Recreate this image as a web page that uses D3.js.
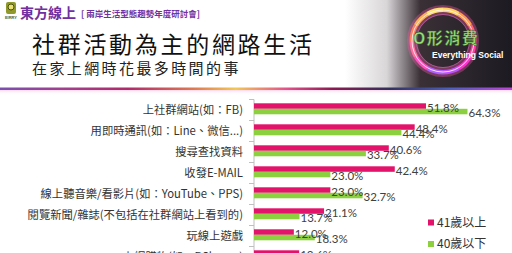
<!DOCTYPE html>
<html>
<head>
<meta charset="utf-8">
<script src="https://cdn.jsdelivr.net/npm/d3@7/dist/d3.min.js"></script>
<style>
  html, body { margin: 0; padding: 0; background: #fff; }
  svg { display: block; }
</style>
</head>
<body>
<script>
// ---------- data ----------
const categories = [
    '上社群網站(如：FB)',
    '用即時通訊(如：Line、微信...)',
    '搜尋查找資料',
    '收發E-MAIL',
    '線上聽音樂/看影片(如：YouTube、PPS)',
    '閱覽新聞/雜誌(不包括在社群網站上看到的)',
    '玩線上遊戲',
    '上網購物(如：PChome)'
];
const seriesNames = ['41歲以上', '40歲以下'];
const olderValues = [51.8, 48.4, 40.6, 42.4, 23.0, 21.1, 12.0, 13.6];
const youngerValues = [64.3, 44.4, 33.7, 23.0, 32.7, 13.7, 18.3, 11.5];

let width = 512,
    height = 253;

let colors = { '41歲以上': '#e3136b', '40歲以下': '#8ccf3f' };

let svg = d3.select('body')
    .append('svg')
    .attr('width', width)
    .attr('height', height);

let defs = svg.append('defs');

//---------- header background ----------
let bgGrad = defs.append('linearGradient').attr('id', 'bgGrad');
bgGrad.append('stop').attr('offset', '0%').attr('stop-color', '#ffffff');
bgGrad.append('stop').attr('offset', '25%').attr('stop-color', '#d9d6d8');
bgGrad.append('stop').attr('offset', '45%').attr('stop-color', '#3a3036');
bgGrad.append('stop').attr('offset', '100%').attr('stop-color', '#1c1a22');

svg.append('rect')
    .attr('x', 345).attr('y', 0)
    .attr('width', width - 345).attr('height', 88)
    .attr('fill', 'url(#bgGrad)');

// rainbow line under the header
let lineGrad = defs.append('linearGradient').attr('id', 'lineGrad');
[['0%', '#7a4fb0'], ['12%', '#a0408f'], ['25%', '#b02a6a'], ['38%', '#e07a50'],
 ['46%', '#f2c850'], ['56%', '#e4508a'], ['65%', '#8a1a50'], ['76%', '#30305a'],
 ['88%', '#4a60c0'], ['100%', '#c044d8']].forEach(function (s) {
    lineGrad.append('stop').attr('offset', s[0]).attr('stop-color', s[1]);
});
svg.append('rect')
    .attr('x', 0).attr('y', 87.5)
    .attr('width', width).attr('height', 2.5)
    .attr('fill', 'url(#lineGrad)');

let fadeGrad = defs.append('linearGradient').attr('id', 'fadeGrad')
    .attr('x1', 0).attr('y1', 0).attr('x2', 0).attr('y2', 1);
fadeGrad.append('stop').attr('offset', '0%').attr('stop-color', '#f3c8e6').attr('stop-opacity', 0.7);
fadeGrad.append('stop').attr('offset', '100%').attr('stop-color', '#ffffff').attr('stop-opacity', 0);
svg.append('rect')
    .attr('x', 0).attr('y', 90)
    .attr('width', width).attr('height', 5)
    .attr('fill', 'url(#fadeGrad)');

//---------- logo + titles ----------
let logo = svg.append('g').attr('transform', 'translate(4,2)');
logo.append('rect').attr('x', 2).attr('y', 0).attr('width', 10).attr('height', 12)
    .attr('rx', 2).attr('fill', '#8f9a2a');
logo.append('circle').attr('cx', 7).attr('cy', 5).attr('r', 3)
    .attr('fill', '#e8e070').attr('stroke', '#4a5010').attr('stroke-width', 1);
logo.append('text').attr('x', 7).attr('y', 17)
    .attr('text-anchor', 'middle')
    .style('font', 'bold 4px "Liberation Sans"')
    .attr('fill', '#556020')
    .text('EIRRY');

svg.append('text')
    .attr('x', 20).attr('y', 18)
    .style('font', 'bold 14px "Noto Sans CJK TC"')
    .attr('fill', '#7030a0')
    .text('東方線上');

svg.append('text')
    .attr('x', 81).attr('y', 17)
    .style('font', 'bold 8.5px "Noto Sans CJK TC"')
    .attr('fill', '#7030a0')
    .text('[ 兩岸生活型態趨勢年度研討會]');

svg.append('text')
    .attr('x', 32).attr('y', 53)
    .style('font', '23px "Noto Sans CJK TC"')
    .style('letter-spacing', '2.7px')
    .attr('fill', '#111')
    .text('社群活動為主的網路生活');

svg.append('text')
    .attr('x', 32).attr('y', 74)
    .style('font', '15px "Noto Sans CJK TC"')
    .style('letter-spacing', '2.4px')
    .attr('fill', '#222')
    .text('在家上網時花最多時間的事');

//---------- ring logo (colored arc pieces) ----------
let ringColors = ['#ffd060', '#ff9a50', '#ff6070', '#ff40a0', '#ff30d0', '#c050ff',
                  '#b060ff', '#ff50c0', '#ff70a0', '#ff8060', '#ffb050', '#ffe070'];
let ringArc = d3.arc().innerRadius(29).outerRadius(33.5);
let ringPie = d3.pie().value(1).sort(null);

let ring = svg.append('g').attr('transform', 'translate(443,41)');
ring.append('circle').attr('r', 31).attr('fill', 'none')
    .attr('stroke', '#ff5ab0').attr('stroke-width', 10).attr('opacity', 0.35);
ring.selectAll('path')
    .data(ringPie(ringColors))
    .enter().append('path')
    .attr('d', ringArc)
    .attr('fill', function (d) { return d.data; });
ring.append('circle').attr('r', 31).attr('fill', 'none')
    .attr('stroke', '#fff4f8').attr('stroke-width', 1).attr('opacity', 0.85);
ring.append('circle').attr('r', 26.5).attr('fill', 'none')
    .attr('stroke', '#ff80e0').attr('stroke-width', 0.8).attr('opacity', 0.5);

svg.append('text')
    .attr('x', 413).attr('y', 44)
    .style('font', 'bold 16px "Noto Sans CJK TC"')
    .style('letter-spacing', '1.5px')
    .attr('fill', '#9be07a')
    .attr('stroke', '#2a5020').attr('stroke-width', 0.4)
    .text('O形消費');

svg.append('text')
    .attr('x', 432).attr('y', 58)
    .style('font', 'bold 8.5px "Liberation Sans"')
    .attr('fill', '#ffffff')
    .text('Everything Social');

//---------- chart ----------
let x = d3.scaleLinear()
    .domain([0, 70])
    .range([254, 254 + 70 * 3.32]);

let y = d3.scaleBand()
    .domain(categories)
    .range([99.5, 99.5 + 21 * categories.length]);

let ySeries = d3.scaleBand()
    .domain(seriesNames)
    .range([3.8, 14.8]);

let rows = categories.map(function (c, i) {
    return { category: c, values: [
        { name: seriesNames[0], value: olderValues[i] },
        { name: seriesNames[1], value: youngerValues[i] }
    ] };
});

let chart = svg.append('g').attr('class', 'chart');

// axis line with ticks on the band edges
chart.append('line')
    .attr('x1', x(0)).attr('x2', x(0))
    .attr('y1', y.range()[0]).attr('y2', y.range()[1])
    .attr('stroke', '#bfbfbf').attr('stroke-width', 1);

chart.selectAll('line.tick')
    .data(categories.concat(['__end']))
    .enter().append('line')
    .attr('class', 'tick')
    .attr('x1', x(0) - 5).attr('x2', x(0))
    .attr('y1', function (d) { return d === '__end' ? y.range()[1] : y(d); })
    .attr('y2', function (d) { return d === '__end' ? y.range()[1] : y(d); })
    .attr('stroke', '#bfbfbf').attr('stroke-width', 1);

let yAxis = d3.axisLeft(y).tickSize(0).tickPadding(11);
let axisG = chart.append('g')
    .attr('transform', `translate(${x(0)},0)`)
    .call(yAxis);
axisG.select('.domain').remove();
axisG.selectAll('text')
    .style('font', '11.3px "Noto Sans CJK TC"')
    .attr('fill', '#333')
    .attr('dy', '0.32em');

let row = chart.selectAll('g.row')
    .data(rows)
    .enter().append('g')
    .attr('class', 'row')
    .attr('transform', function (d) { return `translate(0,${y(d.category)})`; });

row.selectAll('rect')
    .data(function (d) { return d.values; })
    .enter().append('rect')
    .attr('x', x(0))
    .attr('y', function (d) { return ySeries(d.name); })
    .attr('width', function (d) { return x(d.value) - x(0); })
    .attr('height', ySeries.bandwidth())
    .attr('fill', function (d) { return colors[d.name]; });

row.selectAll('text.val')
    .data(function (d) { return d.values; })
    .enter().append('text')
    .attr('class', 'val')
    .attr('x', function (d) { return x(d.value) + 1; })
    .attr('y', function (d) { return ySeries(d.name) + ySeries.bandwidth() / 2 + 1.5; })
    .attr('dy', '0.35em')
    .style('font', '11.5px "Lato"')
    .attr('fill', '#404040')
    .text(function (d) { return d.value.toFixed(1) + '%'; });

//---------- legend ----------
let legend = svg.selectAll('g.legend')
    .data(seriesNames)
    .enter().append('g')
    .attr('class', 'legend')
    .attr('transform', function (d, i) { return `translate(428,${222.5 + i * 21.5})`; });

legend.append('rect')
    .attr('x', 0).attr('y', -3)
    .attr('width', 6).attr('height', 6)
    .attr('fill', function (d) { return colors[d]; });

legend.append('text')
    .attr('x', 9).attr('dy', '0.35em')
    .style('font', '12px "Noto Sans CJK TC"')
    .attr('fill', '#333')
    .text(function (d) { return d; });
</script>
</body>
</html>
